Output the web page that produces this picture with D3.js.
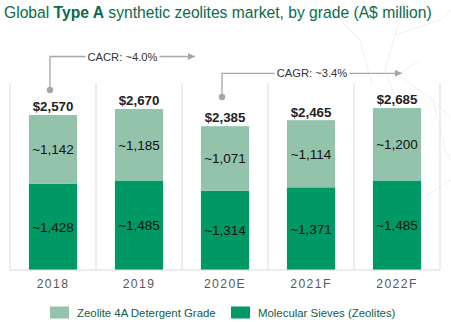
<!DOCTYPE html>
<html>
<head>
<meta charset="utf-8">
<script src="https://cdn.jsdelivr.net/npm/d3@7/dist/d3.min.js"></script>
<style>
  html, body { margin: 0; padding: 0; background: #fff; }
  svg { display: block; font-family: "Liberation Sans", Arial, sans-serif; }
</style>
</head>
<body>
<svg id="chart" width="451" height="322"></svg>
<script>
// ---- data ----
const categories = ["2018", "2019", "2020E", "2021F", "2022F"];
const molecularSieves = [1428, 1485, 1314, 1371, 1485];
const detergentGrade = [1142, 1185, 1071, 1114, 1200];
const totals = [2570, 2670, 2385, 2465, 2685];
const seriesNames = ["Zeolite 4A Detergent Grade", "Molecular Sieves (Zeolites)"];
const cagrLabels = ["CACR: ~4.0%", "CAGR: ~3.4%"];
const cagrFrom = ["2018", "2020E"];
const cagrTo = ["2020E", "2022F"];

const colors = { light: "#93c4ab", dark: "#009865", title: "#0b6a4c", grid: "#dcdcdc" };

const svg = d3.select("#chart");

// decorative faint background lines
const deco = svg.append("g").attr("stroke", "#ececec").attr("fill", "none").attr("stroke-width", 0.8);
[
  "M405,0 L395,35 L385,70 L400,110 L380,160 L420,200",
  "M420,60 L398,75 L433,100 L451,118",
  "M395,35 L440,20 L451,10",
  "M330,10 L360,40 L372,85",
  "M420,200 L451,180",
  "M433,100 L445,150 L451,160"
].forEach(d => deco.append("path").attr("d", d));

// title (font size fitted so the line spans ~428px like the reference)
const title = svg.append("text").attr("x", 4).attr("y", 18)
  .attr("font-size", 16).attr("fill", colors.title);
title.append("tspan").text("Global ");
title.append("tspan").attr("font-weight", "bold").text("Type A");
title.append("tspan").text(" synthetic zeolites market, by grade (A$ million)");
const tw0 = title.node().getComputedTextLength();
title.attr("font-size", 16 * 428 / tw0);

// scales
const x = d3.scaleBand().domain(categories).range([10, 440]).paddingInner(0.44).paddingOuter(0.22);
const y = d3.scaleLinear().domain([0, 3300]).range([270, 71]);
const bw = x.bandwidth();
const step = x.step();

// vertical grid lines at band boundaries
const gridX = d3.range(categories.length + 1).map(i => 10 + i * step);
svg.append("g").selectAll("line").data(gridX).join("line")
  .attr("x1", d => d).attr("x2", d => d)
  .attr("y1", 83).attr("y2", y(0))
  .attr("stroke", colors.grid).attr("stroke-width", 1);

// bars
const rows = categories.map((c, i) => ({ c, dark: molecularSieves[i], light: detergentGrade[i], total: totals[i] }));
const g = svg.append("g");
g.selectAll("rect.dark").data(rows).join("rect").attr("class", "dark")
  .attr("x", d => x(d.c)).attr("width", bw)
  .attr("y", d => y(d.dark)).attr("height", d => y(0) - y(d.dark))
  .attr("fill", colors.dark);
g.selectAll("rect.light").data(rows).join("rect").attr("class", "light")
  .attr("x", d => x(d.c)).attr("width", bw)
  .attr("y", d => y(d.dark + d.light)).attr("height", d => y(d.dark) - y(d.dark + d.light))
  .attr("fill", colors.light);

const fmt = d3.format(",");
g.selectAll("text.dl").data(rows).join("text").attr("class", "dl")
  .attr("x", d => x(d.c) + bw / 2).attr("y", d => (y(0) + y(d.dark)) / 2 + 5)
  .attr("text-anchor", "middle").attr("font-size", 13.5).attr("fill", "#111")
  .text(d => "~" + fmt(d.dark));
g.selectAll("text.ll").data(rows).join("text").attr("class", "ll")
  .attr("x", d => x(d.c) + bw / 2).attr("y", d => (y(d.dark) + y(d.dark + d.light)) / 2 + 5)
  .attr("text-anchor", "middle").attr("font-size", 13.5).attr("fill", "#111")
  .text(d => "~" + fmt(d.light));
g.selectAll("text.tl").data(rows).join("text").attr("class", "tl")
  .attr("x", d => x(d.c) + bw / 2).attr("y", d => y(d.total) - 4)
  .attr("text-anchor", "middle").attr("font-size", 13.3).attr("font-weight", "bold").attr("fill", "#222")
  .text(d => "$" + fmt(d.total));

// baseline
svg.append("line").attr("x1", 10).attr("x2", 440).attr("y1", y(0)).attr("y2", y(0))
  .attr("stroke", colors.grid).attr("stroke-width", 1.2);

// x axis labels
const xAxis = d3.axisBottom(x).tickSize(0).tickPadding(0);
const ax = svg.append("g").attr("transform", `translate(0,${y(0) + 9})`).call(xAxis);
ax.select(".domain").remove();
ax.selectAll("text").attr("font-size", 12.2).attr("fill", "#595959")
  .attr("letter-spacing", 1.4).attr("font-family", "Liberation Sans, Arial, sans-serif")
  .attr("dy", "0.71em");

// CAGR annotations
const defs = svg.append("defs");
defs.append("marker").attr("id", "arr").attr("viewBox", "0 0 10 10").attr("refX", 10).attr("refY", 5)
  .attr("markerWidth", 7).attr("markerHeight", 7).attr("orient", "auto").attr("markerUnits", "userSpaceOnUse")
  .append("path").attr("d", "M0,0 L10,5 L0,10 Z").attr("fill", "#a6a6a6");

const annY = [56.5, 73.3];
const dotY = [90, 97];
const endX = [x(cagrTo[0]) - 6, x(cagrTo[1]) + bw / 2 + 5];
cagrLabels.forEach((lab, i) => {
  const sx = x(cagrFrom[i]) + bw / 2 - 3;
  const ex = endX[i];
  const ag = svg.append("g");
  const cx = (sx + ex) / 2;
  const t = ag.append("text").attr("x", cx).attr("y", annY[i] + 4).attr("text-anchor", "middle")
    .attr("font-size", 11.2).attr("fill", "#333").text(lab);
  const tw = t.node().getComputedTextLength();
  ag.append("path").attr("d", `M${sx},${dotY[i]} V${annY[i]} H${cx - tw / 2 - 2}`)
    .attr("fill", "none").attr("stroke", "#a6a6a6").attr("stroke-width", 1.3);
  ag.append("line").attr("x1", cx + tw / 2 + 2).attr("x2", ex).attr("y1", annY[i]).attr("y2", annY[i])
    .attr("stroke", "#a6a6a6").attr("stroke-width", 1.3).attr("marker-end", "url(#arr)");
  ag.append("circle").attr("cx", sx).attr("cy", dotY[i]).attr("r", 3.2).attr("fill", "#a6a6a6");
});

// legend
const legX = [50, 231];
const legColors = [colors.light, colors.dark];
seriesNames.forEach((n, i) => {
  svg.append("rect").attr("x", legX[i]).attr("y", 306.5).attr("width", 19).attr("height", 12).attr("fill", legColors[i]);
  svg.append("text").attr("x", legX[i] + 27).attr("y", 317).attr("font-size", 11.4)
    .attr("fill", "#0b5e47").text(n);
});
</script>
</body>
</html>
